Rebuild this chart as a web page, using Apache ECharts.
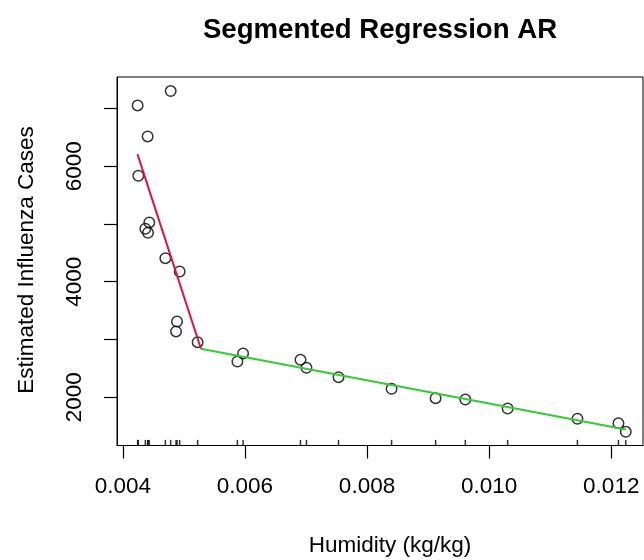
<!DOCTYPE html>
<html>
<head>
<meta charset="utf-8">
<script src="https://cdn.jsdelivr.net/npm/echarts@6/dist/echarts.min.js"></script>
<style>
  html, body { margin: 0; padding: 0; background: #fff; }
  #chart { width: 644px; height: 560px; }
</style>
</head>
<body>
<div id="chart"></div>
<script>
// observed points (humidity kg/kg, estimated cases)
const humidity = [0.004243, 0.004784, 0.004407, 0.004254, 0.004434, 0.004369, 0.004413,
  0.004697, 0.004931, 0.004888, 0.004872, 0.005226, 0.005877, 0.00597, 0.00691,
  0.007008, 0.007533, 0.008402, 0.009123, 0.00961, 0.010303, 0.011446, 0.012118, 0.012238];
const cases = [7055, 7303, 6518, 5837, 5028, 4919, 4849,
  4409, 4178, 3312, 3139, 2953, 2619, 2757, 2648,
  2510, 2347, 2146, 1983, 1960, 1804, 1626, 1549, 1400];

// fitted segments
const segLeftX = [0.00424, 0.00528];
const segLeftY = [6210, 2840];
const segRightX = [0.00528, 0.01224];
const segRightY = [2840, 1440];

// axes
const xTicks = [0.004, 0.006, 0.008, 0.010, 0.012];
const yTicks = [2000, 3000, 4000, 5000, 6000, 7000];
const yLabels = [2000, 4000, 6000];
const xRange = [0.003905, 0.01252];
const yRange = [1163, 7547];

const FONT = 'Liberation Sans, Arial, sans-serif';

const chart = echarts.init(document.getElementById('chart'));

const zip = (xs, ys) => xs.map((x, i) => [x, ys[i]]);

chart.setOption({
  animation: false,
  backgroundColor: '#fff',
  grid: {
    left: 117, top: 77, width: 526, height: 368.5,
    show: true, borderColor: '#000', borderWidth: 1
  },
  xAxis: {
    type: 'value',
    min: xRange[0],
    max: xRange[1],
    splitLine: { show: false },
    axisLine: { show: true, onZero: false, lineStyle: { color: '#000', width: 1 } },
    axisTick: { show: true, length: 13, customValues: xTicks, lineStyle: { color: '#000', width: 1.2 } },
    axisLabel: {
      customValues: xTicks,
      margin: 30,
      color: '#000',
      fontFamily: FONT,
      fontSize: 22.5,
      formatter: (v) => v.toFixed(3)
    }
  },
  yAxis: {
    type: 'value',
    min: yRange[0],
    max: yRange[1],
    splitLine: { show: false },
    axisLine: { show: true, onZero: false, lineStyle: { color: '#000', width: 1 } },
    axisTick: { show: true, length: 13, customValues: yTicks, lineStyle: { color: '#000', width: 1.2 } },
    axisLabel: {
      customValues: yLabels,
      rotate: 90,
      margin: 31,
      color: '#000',
      fontFamily: FONT,
      fontSize: 22.5,
      formatter: (v) => String(v)
    }
  },
  graphic: [
    {
      type: 'text', x: 380, y: 30, z: 10,
      style: { text: 'Segmented Regression AR', fill: '#000', font: 'bold 27.6px ' + FONT,
        textAlign: 'center', textVerticalAlign: 'middle' }
    },
    {
      type: 'text', x: 390, y: 546, z: 10,
      style: { text: 'Humidity (kg/kg)', fill: '#000', font: '22.5px ' + FONT,
        textAlign: 'center', textVerticalAlign: 'middle' }
    },
    {
      type: 'text', x: 27, y: 260, rotation: Math.PI / 2, z: 10,
      style: { text: 'Estimated Influenza Cases', fill: '#000', font: '22.5px ' + FONT,
        textAlign: 'center', textVerticalAlign: 'middle' }
    }
  ],
  series: [
    {
      name: 'observed',
      type: 'scatter',
      data: zip(humidity, cases),
      symbol: 'circle',
      symbolSize: 10.5,
      itemStyle: { color: 'rgba(0,0,0,0)', borderColor: '#000', borderWidth: 1.5 },
      z: 2
    },
    {
      name: 'rug',
      type: 'scatter',
      data: humidity.map((x) => [x, yRange[0]]),
      symbol: 'rect',
      symbolSize: [1.5, 5.6],
      symbolOffset: [0, -2.8],
      clip: false,
      itemStyle: { color: '#000' },
      z: 2
    },
    {
      name: 'segment 1',
      type: 'line',
      data: zip(segLeftX, segLeftY),
      showSymbol: false,
      lineStyle: { color: '#DC143C', width: 2 },
      z: 3
    },
    {
      name: 'segment 2',
      type: 'line',
      data: zip(segRightX, segRightY),
      showSymbol: false,
      lineStyle: { color: '#33CC33', width: 2 },
      z: 3
    }
  ]
});
</script>
</body>
</html>
